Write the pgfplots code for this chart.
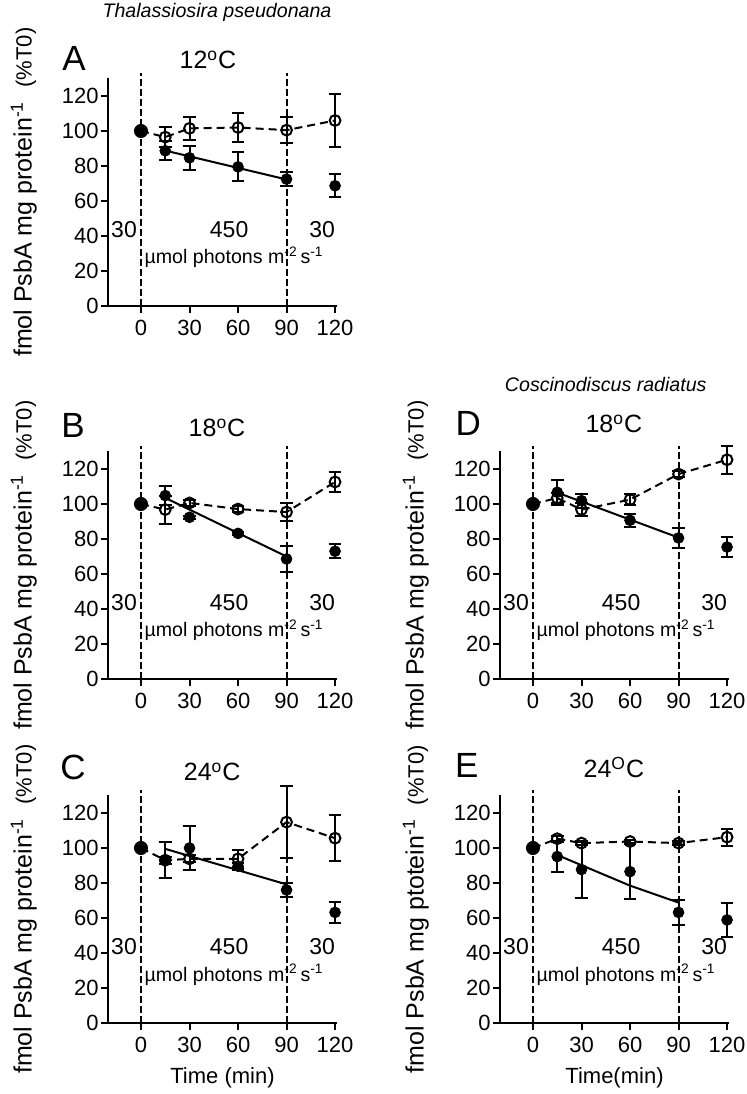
\documentclass[border=0pt]{standalone}
\usepackage{pgfplots}
\pgfplotsset{compat=1.18}
\usepackage{fontspec}
\setmainfont{Liberation Sans}

\newcommand{\fs}[1]{\fontsize{#1}{#1}\selectfont}
\newcommand{\ylab}[1]{\fs{12.5}fmol PsbA mg #1\textsuperscript{-1}\ \ {\fs{11}(\%T0)}}

\pgfplotsset{
  panel/.style={
    scale only axis, width=114.5pt, height=113.75pt,
    anchor=south west,
    xmin=-20.4, xmax=121.2, ymin=0, ymax=130,
    axis lines*=left,
    axis line style={-, line width=1pt},
    xtick={0,30,60,90,120}, ytick={0,20,...,120},
    tick align=outside, major tick length=3.5pt,
    every tick/.style={black, line width=1pt},
    tick label style={font=\fs{11}},
    /pgf/number format/assume math mode=true,
    yticklabel style={inner xsep=1pt},
    clip=false,
    ylabel style={at={(axis description cs:-0.334,0.5)}, anchor=base},
    xlabel style={at={(axis description cs:0.5,-0.242)}, anchor=center, font=\fs{11}},
  },
  ebar/.style={error bars/.cd, y dir=both, y explicit,
    error bar style={solid, line width=1pt},
    error mark options={solid, rotate=90, line width=1pt, mark size=3.2pt}},
  opn/.style={black, line width=1pt, dash pattern=on 4pt off 2.5pt,
    mark=o, mark size=2.7pt, mark options={solid, fill=white, line width=1pt}, ebar},
  fil/.style={black, only marks, mark=*, mark size=2.7pt, ebar},
  big/.style={black, only marks, mark=*, mark size=3.3pt},
  vdash/.style={black, line width=1pt, dash pattern=on 3.3pt off 1.7pt},
  fitl/.style={black, line width=1pt, no marks},
}

\newcommand{\light}{%
  \addplot[vdash] coordinates {(0,0) (0,133)};
  \addplot[vdash] coordinates {(90,0) (90,133)};
  \node[font=\fs{11.5}, anchor=base, inner sep=0pt] at (axis cs:-10.5,38.9) {30};
  \node[font=\fs{11.5}, anchor=base, inner sep=0pt] at (axis cs:54.5,38.9) {450};
  \node[font=\fs{11.5}, anchor=base, inner sep=0pt] at (axis cs:112,38.9) {30};
  \node[font=\fs{9.8}, anchor=base west, inner sep=0pt] at (axis cs:2,24) {µmol photons m\textsuperscript{-2}\kern0.15em s\textsuperscript{-1}};
}

\begin{document}
\begin{tikzpicture}
\path[use as bounding box] (0,0) rectangle (373.5pt,547pt);

% ---------- A : T. pseudonana 12 C
\begin{axis}[panel, at={(54pt,394pt)}, ylabel={\ylab{protein}}]
\light
\addplot[opn] table[x=t, y=v, y error=e] {
t v e
0 100 0
15 96.5 5.5
30 101.5 6.5
60 102 8.5
90 100.5 7.5
120 106 15
};
\addplot[fitl] coordinates {(15,88.8) (90,72.3)};
\addplot[fil] table[x=t, y=v, y error=e] {
t v e
15 88.7 5.3
30 84.7 6.9
60 79.5 8.3
90 72.5 4
120 68.7 6.5
};
\addplot[big] coordinates {(0,100)};
\node[font=\fs{12.5}] at (axis cs:41.4,140.6) {12\textsuperscript{o}C};
\node[font=\fs{17.5}] at (axis cs:-41.4,141.7) {A};
\node[font=\fs{9.8}\itshape] at (axis cs:47,168) {Thalassiosira pseudonana};
\end{axis}

% ---------- B : T. pseudonana 18 C
\begin{axis}[panel, at={(54pt,207.5pt)}, ylabel={\ylab{protein}}]
\light
\addplot[opn] table[x=t, y=v, y error=e] {
t v e
0 100 0
15 96.8 8
30 100.6 1.5
60 97.1 1.5
90 95.4 5.3
120 112.6 5.5
};
\addplot[fitl] coordinates {(15,103.5) (90,70)};
\addplot[fil] table[x=t, y=v, y error=e] {
t v e
15 104.8 5.2
30 92.4 1
60 83.2 1
90 68.6 7.5
120 73 4
};
\addplot[big] coordinates {(0,100)};
\node[font=\fs{12.5}] at (axis cs:47,143.4) {18\textsuperscript{o}C};
\node[font=\fs{17.5}] at (axis cs:-42,145) {B};
\end{axis}

% ---------- C : T. pseudonana 24 C
\begin{axis}[panel, at={(54pt,35.5pt)}, xlabel={Time (min)}, ylabel={\ylab{protein}}]
\light
\addplot[opn] table[x=t, y=v, y error=e] {
t v e
0 100 0
15 93 2
30 93.8 2
60 93.8 5
90 114.8 20.5
120 105.6 13
};
\addplot[fitl] coordinates {(15,99.5) (90,79.2)};
\addplot[fil] table[x=t, y=v, y error=e] {
t v e
15 93.2 10.5
30 100 12.8
60 89.6 2
90 76 4
120 63.2 6
};
\addplot[big] coordinates {(0,100)};
\node[font=\fs{12.5}] at (axis cs:44,143.4) {24\textsuperscript{o}C};
\node[font=\fs{17.5}] at (axis cs:-42,146) {C};
\end{axis}

% ---------- D : C. radiatus 18 C
\begin{axis}[panel, at={(250pt,207.5pt)}, ylabel={\ylab{protein}}]
\light
\addplot[opn] table[x=t, y=v, y error=e] {
t v e
0 100 0
15 103.4 3
30 96.8 3.7
60 102.5 3
90 117.1 1.5
120 125.3 8
};
\addplot[fitl] coordinates {(15,106.5) (90,80.8)};
\addplot[fil] table[x=t, y=v, y error=e] {
t v e
15 106.7 7
30 101.9 4
60 90.7 3.7
90 80.6 5.7
120 75.4 5.7
};
\addplot[big] coordinates {(0,100)};
\node[font=\fs{12.5}] at (axis cs:50,145.7) {18\textsuperscript{o}C};
\node[font=\fs{17.5}] at (axis cs:-40,146) {D};
\node[font=\fs{9.8}\itshape] at (axis cs:45,168) {Coscinodiscus radiatus};
\end{axis}

% ---------- E : C. radiatus 24 C
\begin{axis}[panel, at={(250pt,35.5pt)}, xlabel={Time(min)}, ylabel={\ylab{ptotein}}]
\light
\addplot[opn] table[x=t, y=v, y error=e] {
t v e
0 100 0
15 105.3 1.5
30 102.8 1
60 103.7 1
90 102.8 1
120 106.2 4.8
};
\addplot[fitl] coordinates {(15,96) (60,78.5) (90,68.8)};
\addplot[fil] table[x=t, y=v, y error=e] {
t v e
15 95.1 8.6
30 87.7 16
60 86.5 15.7
90 63.2 7.3
120 58.9 9.6
};
\addplot[big] coordinates {(0,100)};
\node[font=\fs{12.5}] at (axis cs:50,146) {24\textsuperscript{O}C};
\node[font=\fs{17.5}] at (axis cs:-41,147) {E};
\end{axis}
\end{tikzpicture}
\end{document}
